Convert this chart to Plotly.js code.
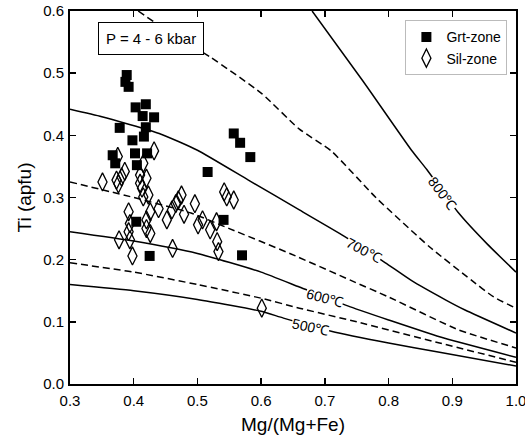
<!DOCTYPE html>
<html>
<head>
<meta charset="utf-8">
<script src="https://cdn.plot.ly/plotly-3.0.1.min.js"></script>
<style>html,body{margin:0;padding:0;background:#fff;}#chart{width:525px;height:444px;}</style>
</head>
<body>
<div id="chart"></div>
<script>
// Isotherms (solid = labelled, dashed = intermediate)
const iso800x = [0.68, 0.76, 0.836, 0.86, 0.91, 0.955, 1.0];
const iso800y = [0.60, 0.487, 0.376, 0.345, 0.275, 0.225, 0.18];
const iso750x = [0.407, 0.45, 0.52, 0.60, 0.66, 0.71, 0.78, 0.865, 0.93, 0.965, 1.0];
const iso750y = [0.60, 0.57, 0.526, 0.468, 0.41, 0.375, 0.30, 0.22, 0.167, 0.14, 0.122];
const iso700x = [0.30, 0.35, 0.44, 0.50, 0.58, 0.66, 0.73, 0.795, 0.835, 0.89, 0.92, 1.0];
const iso700y = [0.442, 0.43, 0.403, 0.376, 0.328, 0.28, 0.238, 0.195, 0.167, 0.135, 0.119, 0.082];
const iso650x = [0.30, 0.40, 0.49, 0.55, 0.645, 0.74, 0.80, 0.91, 1.0];
const iso650y = [0.325, 0.30, 0.275, 0.25, 0.21, 0.167, 0.14, 0.087, 0.058];
const iso600x = [0.30, 0.40, 0.50, 0.60, 0.66, 0.74, 0.80, 0.88, 1.0];
const iso600y = [0.245, 0.23, 0.21, 0.18, 0.156, 0.124, 0.103, 0.076, 0.043];
const iso550x = [0.30, 0.40, 0.50, 0.60, 0.66, 0.75, 0.88, 1.0];
const iso550y = [0.195, 0.18, 0.16, 0.138, 0.122, 0.10, 0.066, 0.035];
const iso500x = [0.30, 0.40, 0.50, 0.60, 0.635, 0.71, 0.80, 0.88, 1.0];
const iso500y = [0.16, 0.15, 0.136, 0.117, 0.106, 0.085, 0.066, 0.051, 0.029];

// Isotherm labels
const isoLabels = ["800℃", "700℃", "600℃", "500℃"];
const isoLabelX = [0.884, 0.76, 0.70, 0.677];
const isoLabelY = [0.307, 0.215, 0.138, 0.092];
const isoLabelAngle = [53, 28, 15, 12];

// Grt-zone biotite
const grtX = [0.389, 0.387, 0.392, 0.419, 0.403, 0.414, 0.432, 0.378, 0.419, 0.398, 0.416, 0.557,
              0.567, 0.583, 0.402, 0.421, 0.367, 0.371, 0.405, 0.516, 0.404, 0.541, 0.425, 0.570];
const grtY = [0.497, 0.486, 0.478, 0.450, 0.445, 0.431, 0.429, 0.412, 0.413, 0.392, 0.398, 0.403,
              0.388, 0.365, 0.371, 0.371, 0.368, 0.355, 0.352, 0.341, 0.261, 0.264, 0.206, 0.207];

// Sil-zone biotite
const silX = [0.351, 0.375, 0.373, 0.376, 0.381, 0.386, 0.432, 0.415, 0.410, 0.420, 0.410, 0.413,
              0.423, 0.415, 0.439, 0.426, 0.392, 0.420, 0.394, 0.392, 0.420, 0.426, 0.377, 0.394,
              0.398, 0.452, 0.460, 0.466, 0.475, 0.479, 0.461, 0.496, 0.501, 0.508, 0.520, 0.530,
              0.531, 0.533, 0.542, 0.546, 0.557, 0.601, 0.470];
const silY = [0.325, 0.366, 0.328, 0.322, 0.333, 0.342, 0.375, 0.355, 0.336, 0.331, 0.323, 0.315,
              0.304, 0.301, 0.282, 0.277, 0.277, 0.264, 0.258, 0.245, 0.250, 0.242, 0.232, 0.232,
              0.206, 0.264, 0.280, 0.290, 0.304, 0.273, 0.218, 0.290, 0.256, 0.264, 0.248, 0.261,
              0.229, 0.213, 0.309, 0.301, 0.296, 0.122, 0.296];

const xTicks = [0.3, 0.4, 0.5, 0.6, 0.7, 0.8, 0.9, 1.0];
const yTicks = [0.0, 0.1, 0.2, 0.3, 0.4, 0.5, 0.6];

function iso(x, y, dashed) {
  return {x: x, y: y, mode: 'lines', type: 'scatter', showlegend: false, hoverinfo: 'skip',
          line: {color: '#000', width: 1.5, dash: dashed ? '7px,4px' : 'solid', shape: 'spline', smoothing: 0.5}};
}

const traces = [
  iso(iso800x, iso800y, false),
  iso(iso750x, iso750y, true),
  iso(iso700x, iso700y, false),
  iso(iso650x, iso650y, true),
  iso(iso600x, iso600y, false),
  iso(iso550x, iso550y, true),
  iso(iso500x, iso500y, false),
  {x: silX, y: silY, mode: 'markers', type: 'scatter', name: 'Sil-zone',
   marker: {symbol: 'diamond-tall-open', size: 13, color: '#000', line: {width: 1.3, color: '#000'}}},
  {x: grtX, y: grtY, mode: 'markers', type: 'scatter', name: 'Grt-zone',
   marker: {symbol: 'square', size: 10, color: '#000'}}
];

const annotations = isoLabels.map((t, i) => ({
  x: isoLabelX[i], y: isoLabelY[i], xref: 'x', yref: 'y', text: t, showarrow: false,
  textangle: isoLabelAngle[i], bgcolor: '#fff', borderpad: 0,
  font: {family: 'Liberation Sans, Arial, sans-serif', size: 14, color: '#000'}
}));
annotations.push({
  x: 0.427, y: 0.555, xref: 'x', yref: 'y', text: 'P = 4 - 6 kbar', showarrow: false,
  bgcolor: '#fff', bordercolor: '#000', borderwidth: 1, borderpad: 7,
  font: {family: 'Liberation Sans, Arial, sans-serif', size: 15, color: '#000'}
});

const axisCommon = {
  showline: true, linecolor: '#000', linewidth: 2, mirror: 'allticks',
  ticks: 'inside', ticklen: 6, tickwidth: 1.5, tickcolor: '#000',
  showgrid: false, zeroline: false, tickformat: '.1f', ticklabeloverflow: 'allow',
  tickfont: {family: 'Liberation Sans, Arial, sans-serif', size: 15, color: '#000'}
};

const layout = {
  width: 525, height: 444,
  margin: {l: 70, r: 9, t: 11, b: 60},
  paper_bgcolor: '#fff', plot_bgcolor: '#fff',
  font: {family: 'Liberation Sans, Arial, sans-serif', color: '#000'},
  xaxis: Object.assign({}, axisCommon, {
    range: [0.3, 1.0], tickvals: xTicks, ticklabelstandoff: 2,
    title: {text: 'Mg/(Mg+Fe)', font: {size: 19, color: '#000'}, standoff: 10}
  }),
  yaxis: Object.assign({}, axisCommon, {
    range: [0, 0.6], tickvals: yTicks, ticklabelstandoff: 1,
    title: {text: 'Ti (apfu)', font: {size: 19, color: '#000'}, standoff: 6}
  }),
  legend: {
    x: 0.752, y: 0.975, xanchor: 'left', yanchor: 'top',
    bgcolor: '#fff', bordercolor: '#bbb', borderwidth: 1,
    traceorder: 'reversed',
    font: {family: 'Liberation Sans, Arial, sans-serif', size: 14, color: '#000'}
  },
  annotations: annotations
};

Plotly.newPlot('chart', traces, layout, {displayModeBar: false, staticPlot: true});
</script>
</body>
</html>
